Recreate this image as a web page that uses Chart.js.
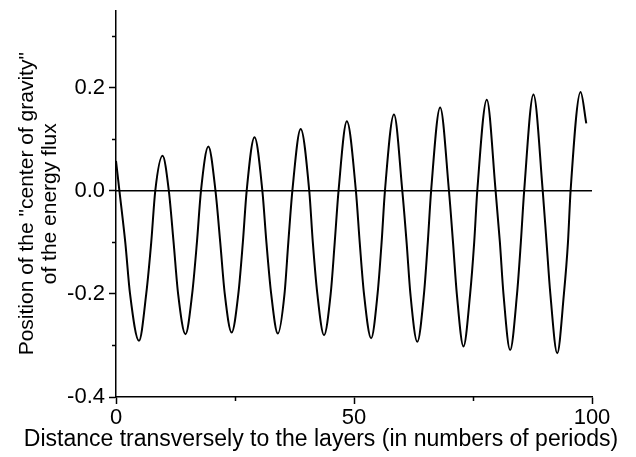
<!DOCTYPE html>
<html>
<head>
<meta charset="utf-8">
<script src="https://cdn.jsdelivr.net/npm/chart.js@4.4.1/dist/chart.umd.min.js"></script>
<style>
  html, body { margin: 0; padding: 0; background: #fff; }
  #wrap { width: 636px; height: 457px; }
</style>
</head>
<body>
<div id="wrap"><canvas id="chart"></canvas></div>
<script>
// values (extrema, zero crossings, -0.1 and -0.2 crossings)
const curveX = [
  0, 0.72, 1.95, 2.95, 4.83, 6.35, 7.4, 8.25,
  9.78, 11.1, 12.1, 13.05, 14.6, 16.0, 17.0, 17.85,
  19.4, 20.9, 21.9, 22.85, 24.3, 25.7, 26.65, 27.45,
  29.1, 30.75, 31.6, 32.6, 34.0, 35.4, 36.2, 37.05,
  38.8, 40.6, 41.35, 42.3, 43.7, 45.1, 45.95, 46.75,
  48.5, 50.4, 51.2, 52.1, 53.6, 54.95, 55.8, 56.5,
  58.4, 60.15, 61.05, 61.85, 63.3, 64.7, 65.5, 66.2,
  68.1, 69.95, 70.8, 71.6, 73.0, 74.4, 75.25, 75.9,
  77.9, 79.75, 80.65, 81.4, 82.8, 84.25, 85.05, 85.75,
  87.7, 89.65, 90.45, 91.25, 92.7, 94.1, 94.95, 95.5,
  97.6, 98.8,
];
const curveY = [
  0.058, 0, -0.1, -0.2, -0.291, -0.2, -0.1, 0,
  0.068, 0, -0.1, -0.2, -0.278, -0.2, -0.1, 0,
  0.086, 0, -0.1, -0.2, -0.275, -0.2, -0.1, 0,
  0.104, 0, -0.1, -0.2, -0.277, -0.2, -0.1, 0,
  0.120, 0, -0.1, -0.2, -0.280, -0.2, -0.1, 0,
  0.135, 0, -0.1, -0.2, -0.286, -0.2, -0.1, 0,
  0.148, 0, -0.1, -0.2, -0.293, -0.2, -0.1, 0,
  0.162, 0, -0.1, -0.2, -0.302, -0.2, -0.1, 0,
  0.177, 0, -0.1, -0.2, -0.309, -0.2, -0.1, 0,
  0.187, 0, -0.1, -0.2, -0.315, -0.2, -0.1, 0,
  0.192, 0.131,
];
const zeroLineX = [0, 100];
const zeroLineY = [0, 0];

const xTicks = [0, 25, 50, 75, 100];
const xMajorTicks = [0, 50, 100];
const yTicks = [-0.4, -0.3, -0.2, -0.1, 0, 0.1, 0.2, 0.3];
const yMajorTicks = [-0.4, -0.2, 0, 0.2];

const xTitle = "Distance transversely to the layers (in numbers of periods)";
const yTitle = ['Position of the "center of gravity"', "of the energy flux"];

const FONT = "'Liberation Sans', Arial, sans-serif";

const isMajor = (list, v) => list.some((m) => Math.abs(m - v) < 1e-9);

const toPoints = (xs, ys) => xs.map((x, i) => ({ x: x, y: ys[i] }));

// short minor ticks + axis titles
const extras = {
  id: "extras",
  afterDraw(chart) {
    const ctx = chart.ctx;
    const xs = chart.scales.x;
    const ys = chart.scales.y;
    const area = chart.chartArea;
    ctx.save();
    ctx.strokeStyle = "#000";
    ctx.lineWidth = 1.5;
    ctx.beginPath();
    xTicks.forEach((v) => {
      if (isMajor(xMajorTicks, v)) return;
      const px = Math.round(xs.getPixelForValue(v)) + 0.5;
      ctx.moveTo(px, area.bottom);
      ctx.lineTo(px, area.bottom + 4);
    });
    yTicks.forEach((v) => {
      if (isMajor(yMajorTicks, v)) return;
      const py = Math.round(ys.getPixelForValue(v)) + 0.5;
      ctx.moveTo(area.left, py);
      ctx.lineTo(area.left - 4, py);
    });
    ctx.stroke();

    ctx.fillStyle = "#000";
    ctx.textAlign = "center";
    ctx.textBaseline = "middle";
    ctx.font = "23px " + FONT;
    ctx.fillText(xTitle, 321, 440);

    ctx.font = "21px " + FONT;
    ctx.translate(27, (area.top + area.bottom) / 2);
    ctx.rotate(-Math.PI / 2);
    ctx.fillText(yTitle[0], 0, 0);
    ctx.fillText(yTitle[1], 0, 23);
    ctx.restore();
  },
};

const ctx = document.getElementById("chart");

new Chart(ctx, {
  type: "line",
  data: {
    datasets: [
      {
        label: "zero",
        data: toPoints(zeroLineX, zeroLineY),
        borderColor: "#000",
        borderWidth: 1.5,
        pointRadius: 0,
        fill: false,
      },
      {
        label: "centre",
        data: toPoints(curveX, curveY),
        borderColor: "#000",
        borderWidth: 2,
        pointRadius: 0,
        fill: false,
        cubicInterpolationMode: "monotone",
      },
    ],
  },
  options: {
    responsive: true,
    maintainAspectRatio: false,
    animation: false,
    layout: {
      padding: { top: 10.5, right: 44, left: 0, bottom: 0 },
    },
    plugins: {
      legend: { display: false },
      tooltip: { enabled: false },
    },
    scales: {
      x: {
        type: "linear",
        min: 0,
        max: 100,
        afterBuildTicks: (scale) => {
          scale.ticks = xTicks.map((v) => ({ value: v }));
        },
        afterFit: (scale) => {
          scale.height = 60;
          scale.paddingLeft = 0;
          scale.paddingRight = 0;
        },
        ticks: {
          color: "#000",
          font: { family: FONT, size: 22 },
          padding: 1,
          maxRotation: 0,
          autoSkip: false,
          callback: (v) => (isMajor(xMajorTicks, v) ? String(v) : ""),
        },
        grid: {
          drawOnChartArea: false,
          tickLength: 7,
          tickWidth: 1.5,
          tickColor: (c) =>
            c.tick && isMajor(xMajorTicks, c.tick.value) ? "#000" : "rgba(0,0,0,0)",
        },
        border: { display: true, color: "#000", width: 1.5 },
      },
      y: {
        type: "linear",
        min: -0.4,
        max: 0.35,
        afterBuildTicks: (scale) => {
          scale.ticks = yTicks.map((v) => ({ value: v }));
        },
        afterFit: (scale) => {
          scale.width = 116;
          scale.paddingTop = 0;
          scale.paddingBottom = 0;
        },
        ticks: {
          color: "#000",
          font: { family: FONT, size: 22 },
          padding: 4,
          autoSkip: false,
          callback: (v) => (isMajor(yMajorTicks, v) ? v.toFixed(1) : ""),
        },
        grid: {
          drawOnChartArea: false,
          tickLength: 7,
          tickWidth: 1.5,
          tickColor: (c) =>
            c.tick && isMajor(yMajorTicks, c.tick.value) ? "#000" : "rgba(0,0,0,0)",
        },
        border: { display: true, color: "#000", width: 1.5 },
      },
    },
  },
  plugins: [extras],
});
</script>
</body>
</html>
